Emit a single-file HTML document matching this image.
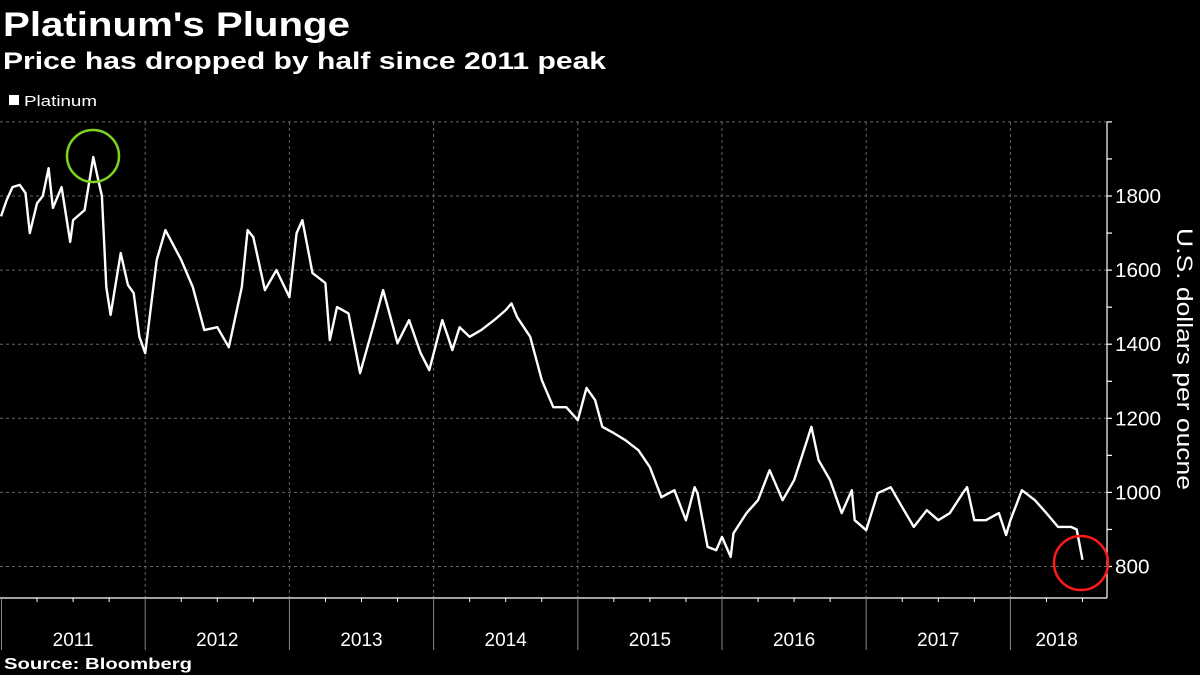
<!DOCTYPE html>
<html><head><meta charset="utf-8"><style>
body{margin:0;background:#000;width:1200px;height:675px;overflow:hidden}
svg{display:block;font-family:"Liberation Sans",sans-serif}
</style></head><body>
<svg id="chart" width="1200" height="675" viewBox="0 0 1200 675">
<text x="3" y="36" fill="#fff" font-size="34" font-weight="bold" textLength="347" lengthAdjust="spacingAndGlyphs">Platinum's Plunge</text>
<text x="3" y="69" fill="#fff" font-size="24" font-weight="bold" textLength="603" lengthAdjust="spacingAndGlyphs">Price has dropped by half since 2011 peak</text>
<g>
<rect x="9" y="95" width="10" height="10" fill="#fff"/>
<text x="24" y="106" fill="#fff" font-size="15" textLength="73" lengthAdjust="spacingAndGlyphs">Platinum</text>
</g>
<g id="grid"></g><g id="axes"></g>
<polyline id="line" fill="none" stroke="#fff" stroke-width="2.4" stroke-linejoin="round"/>
<circle cx="93" cy="156" r="26" fill="none" stroke="#7ed321" stroke-width="2.5"/>
<circle cx="1081" cy="563" r="27" fill="none" stroke="#ff1a1a" stroke-width="2.5"/>
<text transform="translate(1177,359) rotate(90)" text-anchor="middle" fill="#fff" font-size="22" textLength="262" lengthAdjust="spacingAndGlyphs">U.S. dollars per oucne</text>
<text x="4" y="669" fill="#fff" font-size="16" font-weight="bold" textLength="188" lengthAdjust="spacingAndGlyphs">Source: Bloomberg</text>
</svg>
<script>
const dates=[2011.00,2011.04,2011.08,2011.13,2011.17,2011.20,2011.25,2011.29,2011.33,2011.36,2011.42,2011.48,2011.50,2011.58,2011.64,2011.67,2011.70,2011.73,2011.76,2011.83,2011.88,2011.92,2011.96,2012.00,2012.08,2012.14,2012.25,2012.33,2012.41,2012.50,2012.58,2012.67,2012.71,2012.75,2012.83,2012.91,2013.00,2013.05,2013.09,2013.16,2013.25,2013.28,2013.33,2013.41,2013.49,2013.58,2013.65,2013.75,2013.83,2013.91,2013.97,2014.06,2014.10,2014.13,2014.18,2014.25,2014.33,2014.42,2014.50,2014.54,2014.58,2014.67,2014.75,2014.83,2014.92,2015.00,2015.06,2015.12,2015.17,2015.25,2015.33,2015.42,2015.50,2015.58,2015.67,2015.75,2015.81,2015.83,2015.90,2015.96,2016.00,2016.06,2016.08,2016.17,2016.25,2016.33,2016.42,2016.50,2016.56,2016.62,2016.67,2016.75,2016.83,2016.90,2016.92,2017.00,2017.08,2017.17,2017.25,2017.33,2017.42,2017.50,2017.58,2017.67,2017.70,2017.75,2017.83,2017.92,2017.97,2018.00,2018.08,2018.17,2018.25,2018.33,2018.42,2018.46,2018.50];
const prices=[1745,1790,1824,1830,1808,1700,1780,1800,1875,1768,1824,1676,1735,1762,1905,1851,1800,1554,1479,1646,1560,1538,1420,1376,1627,1708,1627,1554,1438,1446,1392,1554,1708,1689,1546,1600,1527,1700,1735,1592,1565,1411,1500,1483,1322,1446,1546,1403,1465,1376,1330,1465,1420,1384,1446,1420,1438,1465,1492,1510,1473,1420,1303,1230,1230,1195,1282,1249,1177,1160,1141,1114,1068,987,1006,925,1014,998,853,844,880,826,890,944,979,1060,979,1033,1105,1177,1087,1033,944,1006,925,898,998,1014,960,907,952,925,944,998,1014,925,925,944,885,925,1006,979,944,907,907,900,818];
const yTicks=[800,1000,1200,1400,1600,1800];
const yMinor=[900,1100,1300,1500,1700,1900,2000];
const years=[2011,2012,2013,2014,2015,2016,2017,2018];
const X0=1,YW=144.2,T0=2011;
function xs(t){return X0+(t-T0)*YW;}
function ys(v){return 566.5-(v-800)*0.3705;}
const NS="http://www.w3.org/2000/svg";
const grid=document.getElementById('grid'),axes=document.getElementById('axes');
function mk(tag,attrs,parent){const e=document.createElementNS(NS,tag);for(const k in attrs)e.setAttribute(k,attrs[k]);parent.appendChild(e);return e;}
const AX=1107,BY=598,TOP=ys(2000);
yTicks.concat([2000]).forEach(v=>{
  const g=mk('line',{x1:0,x2:AX,y1:ys(v),y2:ys(v),stroke:'#666','stroke-dasharray':'3,3','stroke-width':1},grid);
  
  
});
years.slice(1).forEach(y=>{
  const g=mk('line',{x1:xs(y),x2:xs(y),y1:TOP,y2:BY,stroke:'#666','stroke-dasharray':'3,3','stroke-width':1},grid);
  
  
});
let a=mk('line',{x1:AX,x2:AX,y1:TOP,y2:BY,stroke:'#fff','stroke-width':1.2},axes);


a=mk('line',{x1:0,x2:AX,y1:BY,y2:BY,stroke:'#fff','stroke-width':1.2},axes);


yTicks.concat(yMinor).forEach(v=>{
  const t=mk('line',{x1:AX,x2:AX+5,y1:ys(v),y2:ys(v),stroke:'#fff','stroke-width':1.2},axes);
  
  
});
yTicks.forEach(v=>{
  const t=mk('text',{x:AX+8,y:ys(v)+7,fill:'#fff','font-size':20,textLength:String(v).length*11.5,lengthAdjust:'spacingAndGlyphs'},axes);
  t.textContent=v;
  
  
});
years.forEach((y,i)=>{
  if(i>0){const s=mk('line',{x1:xs(y),x2:xs(y),y1:BY,y2:650,stroke:'#888','stroke-width':1},axes);
  
  }
  for(let q=1;q<4;q++){const qx=xs(y+q/4);if(qx<AX){const t=mk('line',{x1:qx,x2:qx,y1:BY,y2:BY+4,stroke:'#fff','stroke-width':1},axes);
  
  }}
  const cx=y===2018?(xs(y)+AX)/2-2:xs(y+0.5);
  const l=mk('text',{x:cx,y:646,fill:'#fff','font-size':19,'text-anchor':'middle'},axes);
  l.textContent=y;
  
  
});
const s0=mk('line',{x1:1.5,x2:1.5,y1:BY,y2:650,stroke:'#888'},axes);


document.getElementById('line').setAttribute('points',dates.map((d,i)=>xs(d).toFixed(1)+','+ys(prices[i]).toFixed(1)).join(' '));
</script>
</body></html>
